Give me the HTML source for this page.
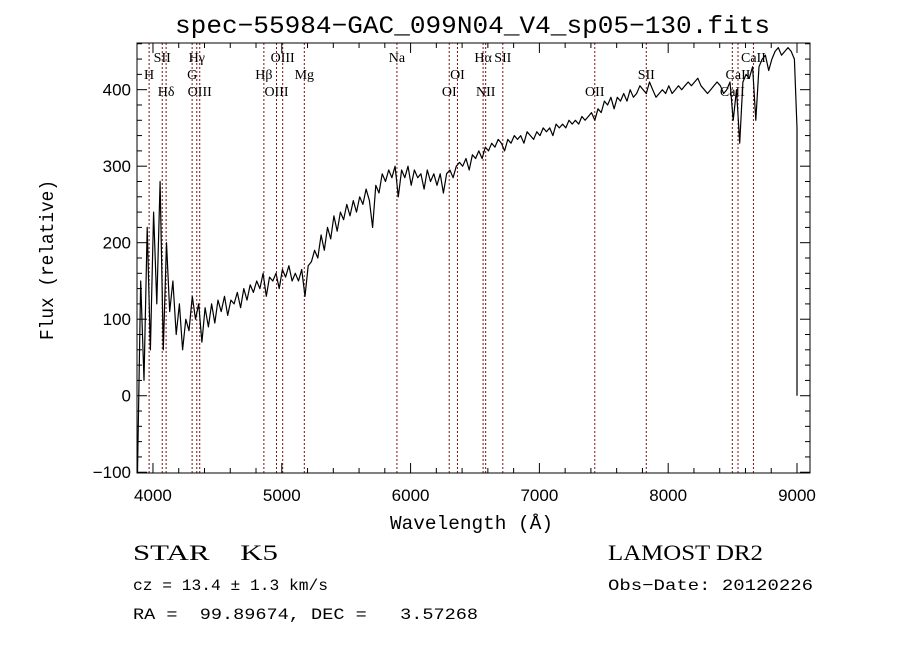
<!DOCTYPE html>
<html><head><meta charset="utf-8"><style>
body{margin:0;background:#fff;}
svg{display:block;}
text{fill:#000;white-space:pre;}
</style></head><body>
<svg id="chart" width="900" height="649" xmlns="http://www.w3.org/2000/svg"></svg>
<script>
const fluxStart = 3880;
const fluxStep = 25;
const flux = [-100,150,20,220,60,240,120,280,60,200,110,150,80,120,60,100,85,130,100,120,70,115,90,120,95,125,110,130,105,125,120,135,115,140,125,145,135,150,140,160,130,155,150,160,140,165,155,170,150,160,150,165,130,170,175,190,180,210,190,220,205,235,215,240,230,250,235,255,240,260,250,270,255,220,275,265,290,280,295,285,300,260,295,285,300,275,295,285,290,270,295,280,290,275,290,265,290,295,285,300,305,300,310,295,315,310,320,310,325,320,330,325,335,330,320,335,330,340,335,340,330,345,340,335,345,340,350,345,350,340,355,350,355,350,360,355,360,355,365,360,365,370,360,375,370,385,380,390,375,390,385,395,385,400,390,395,405,400,395,410,400,390,395,400,395,405,395,400,405,400,405,410,405,410,415,405,400,395,400,405,410,405,395,400,410,360,400,330,410,420,415,430,360,430,440,445,425,440,450,455,445,450,455,450,440,350,0];
const lineWaves = [3970,4072,4102,4304,4340,4363,4861,4959,5007,5175,5894,6300,6364,6563,6583,6716,7430,7830,8498,8542,8662];
const lineNames = ["H","SII","Hδ","G","Hγ","OIII","Hβ","OIII","OIII","Mg","Na","OI","OI","Hα","NII","SII","OII","SII","CaII","CaII","CaII"];
const lineRows = [1,0,2,1,0,2,1,2,0,1,0,2,1,0,2,0,2,1,2,1,0];
const xTicks = [4000,5000,6000,7000,8000,9000];
const yTicks = [-100,0,100,200,300,400];

const NS="http://www.w3.org/2000/svg";
const svg=document.getElementById('chart');
const L=137,R=810,T=43,B=473;
const xMin=3876,xMax=9101,yMin=-101,yMax=461;
const X=w=>L+(w-xMin)/(xMax-xMin)*(R-L);
const Y=v=>B-(v-yMin)/(yMax-yMin)*(B-T);
function el(tag,attrs,parent){const e=document.createElementNS(NS,tag);for(const k in attrs)e.setAttribute(k,attrs[k]);(parent||svg).appendChild(e);return e;}
function txt(s,attrs){const t=el('text',attrs);t.textContent=s;return t;}

lineWaves.forEach((w,i)=>{
  const l=el('line',{x1:X(w),x2:X(w),y1:T,y2:B,stroke:'#7a1010','stroke-width':1,'stroke-dasharray':'2,2'});
  
  
  const t=txt(lineNames[i],{x:X(w),y:62+lineRows[i]*17,'text-anchor':'middle','font-family':'Liberation Serif, serif','font-size':14});
  
  
});

let d='';
flux.forEach((f,i)=>{const w=fluxStart+i*fluxStep;d+=(i?'L':'M')+X(Math.min(w,9000)).toFixed(1)+','+Y(f).toFixed(1);});
const p=el('path',{d:d,fill:'none',stroke:'#000','stroke-width':1.2,'stroke-linejoin':'round'});



const fr=el('rect',{x:L,y:T,width:R-L,height:B-T,fill:'none',stroke:'#000','stroke-width':1});



for(let w=4000;w<=9100;w+=200){
  const major=w%1000===0,len=major?10:5;
  el('line',{x1:X(w),x2:X(w),y1:B,y2:B-len,stroke:'#000'});
  el('line',{x1:X(w),x2:X(w),y1:T,y2:T+len,stroke:'#000'});
}
xTicks.forEach(w=>{const t=txt(String(w),{x:X(w),y:B+28,'text-anchor':'middle','font-family':'Liberation Sans, sans-serif','font-size':17});
  
  });
for(let v=-100;v<=460;v+=20){
  const major=v%100===0,len=major?10:5;
  el('line',{x1:L,x2:L+len,y1:Y(v),y2:Y(v),stroke:'#000'});
  el('line',{x1:R,x2:R-len,y1:Y(v),y2:Y(v),stroke:'#000'});
}
yTicks.forEach(v=>{const t=txt(String(v).replace('-','−'),{x:L-6,y:Y(v)+6,'text-anchor':'end','font-family':'Liberation Sans, sans-serif','font-size':17});
  
  });
</script>
<script>
(function(){
const svg=document.getElementById('chart');
const NS="http://www.w3.org/2000/svg";
function t(s,a,name){const e=document.createElementNS(NS,'text');for(const k in a)e.setAttribute(k,a[k]);e.textContent=s;


svg.appendChild(e);return e;}
const M='Liberation Mono, monospace';
t('spec−55984−GAC_099N04_V4_sp05−130.fits',{x:175,y:33,'font-family':M,'font-size':25,textLength:595,lengthAdjust:'spacingAndGlyphs'},'chart-title');
t('Wavelength (Å)',{x:390,y:529,'font-family':M,'font-size':19,textLength:163,lengthAdjust:'spacingAndGlyphs'},'x-axis-title');
t('Flux (relative)',{x:0,y:0,'font-family':M,'font-size':19,textLength:160,lengthAdjust:'spacingAndGlyphs',transform:'translate(53,340) rotate(-90)'},'y-axis-title');
t('STAR    K5',{x:133,y:560,'font-family':'Liberation Serif, serif','font-size':22,textLength:145,lengthAdjust:'spacingAndGlyphs'},'object-class');
t('LAMOST DR2',{x:608,y:560,'font-family':'Liberation Serif, serif','font-size':22,textLength:155,lengthAdjust:'spacingAndGlyphs'},'data-release');
t('cz = 13.4 ± 1.3 km/s',{x:133,y:590,'font-family':M,'font-size':16,textLength:195,lengthAdjust:'spacingAndGlyphs'},'redshift-info');
t('Obs−Date: 20120226',{x:608,y:590,'font-family':M,'font-size':16,textLength:205,lengthAdjust:'spacingAndGlyphs'},'obs-date');
t('RA =  99.89674, DEC =   3.57268',{x:133,y:619,'font-family':M,'font-size':16,textLength:345,lengthAdjust:'spacingAndGlyphs'},'coordinates');
})();
</script>
</body></html>
